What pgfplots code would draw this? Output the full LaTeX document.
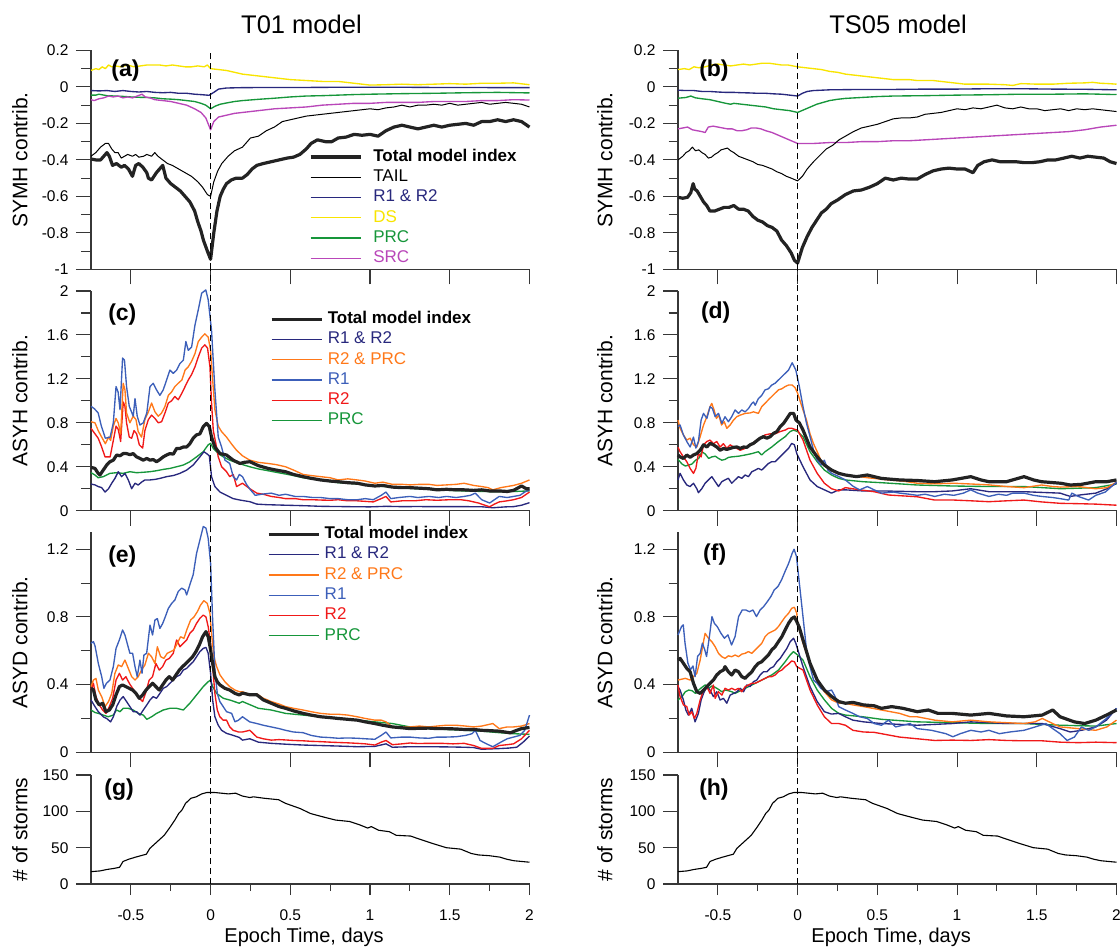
\documentclass[border=0pt]{standalone}
\usepackage{pgfplots}
\usepackage{pgfplotstable}
\pgfplotsset{compat=1.18}
\usepackage{fontspec}
\setmainfont{Liberation Sans}
\definecolor{totc}{RGB}{35,35,35}
\definecolor{navyc}{RGB}{40,40,125}
\definecolor{dsc}{RGB}{248,228,0}
\definecolor{prcc}{RGB}{22,150,58}
\definecolor{srcc}{RGB}{185,70,185}
\definecolor{orc}{RGB}{255,120,25}
\definecolor{r1c}{RGB}{60,95,185}
\definecolor{r2c}{RGB}{240,25,25}
\definecolor{axc}{RGB}{55,55,55}

\tikzset{
  lwt/.style={line width=1.35pt, line join=round},
  totst/.style={totc, line width=3.2pt, line join=round},
  tailst/.style={black, line width=1pt, line join=round},
  plab/.style={font=\fontsize{23}{27}\selectfont\bfseries, anchor=west, inner sep=0pt},
  dline/.style={black, line width=0.9pt, dash pattern=on 6pt off 4pt}
}

\pgfplotstableread{
x y
-0.75 17
-0.694 18
-0.65 20
-0.605 21.5
-0.571 23
-0.549 31
-0.515 34
-0.47 37
-0.437 39
-0.403 41
-0.381 49
-0.336 58
-0.291 67
-0.258 77
-0.224 88
-0.2 97
-0.179 102
-0.157 111
-0.123 118
-0.09 120
-0.056 124
-0.022 126
0.022 126
0.067 125
0.112 124
0.157 125
0.2 121
0.246 119
0.269 120
0.336 118
0.426 116
0.47 111
0.56 104
0.627 97
0.694 93
0.784 88
0.873 86
0.94 81
0.985 77
1.008 79
1.053 74
1.12 72
1.165 67
1.254 66
1.32 61
1.389 56
1.478 50
1.568 48
1.635 42
1.68 40
1.747 39
1.814 37
1.859 34
1.904 32
2.0 30
}\storms

\pgfplotsset{
  base/.style={
    scale only axis, width=438.5pt, xmin=-0.75, xmax=2,
    axis x line*=bottom, axis y line*=left,
    axis line style={axc, line width=1.2pt, -},
    every tick/.style={axc, line width=1.1pt},
    tick align=outside,
    major tick length=15pt, minor tick length=9.5pt,
    xtick={-0.5,0,0.5,1,1.5,2},
    minor y tick num=1,
    tick label style={font=\fontsize{15.5}{18}\selectfont},
    yticklabel style={xshift=-4pt},
    xticklabel style={yshift=-7pt},
    /pgf/number format/assume math mode=true,
    every axis y label/.style={at={(axis description cs:-0.162,0.5)},rotate=90,anchor=center,font=\fontsize{21}{25}\selectfont},
    every axis x label/.style={at={(axis description cs:0.486,-0.535)},anchor=base,font=\fontsize{20}{24}\selectfont},
    legend cell align=left,
    legend image code/.code={\draw[##1] (0pt,0pt) -- (50pt,0pt);},
    clip=false,
  },
  rightax/.style={every axis y label/.style={at={(axis description cs:-0.1665,0.5)},rotate=90,anchor=center,font=\fontsize{21}{25}\selectfont}},
  upper/.style={xticklabels={}},
  bottomax/.style={xtick style={/pgfplots/major tick length=11pt, /pgfplots/minor tick length=7pt}},
  lg/.style={draw=none, fill=none, font=\fontsize{17}{20}\selectfont, row sep=4.8pt, inner sep=0pt, nodes={inner sep=0pt, text height=12pt, text depth=3.5pt}},
}

\begin{document}
\begin{tikzpicture}
%% ---------------- (a) ----------------
\begin{axis}[base, upper, at={(91pt,-269.4pt)}, anchor=south west, height=219pt,
  ymin=-1, ymax=0.2, ytick={-1,-0.8,-0.6,-0.4,-0.2,0,0.2}, ylabel={SYMH contrib.},
  legend style={lg, at={(axis description cs:0.497,0.55)}, anchor=north west, /tikz/every odd column/.append style={column sep=11pt}}]
\addplot[dsc, lwt, forget plot] coordinates {(-0.75,0.09) (-0.72,0.10) (-0.70,0.095) (-0.68,0.11) (-0.66,0.10) (-0.64,0.12) (-0.62,0.11) (-0.60,0.115) (-0.56,0.11) (-0.52,0.12) (-0.48,0.11) (-0.44,0.115) (-0.40,0.12) (-0.36,0.12) (-0.32,0.12) (-0.28,0.115) (-0.24,0.12) (-0.20,0.115) (-0.16,0.11) (-0.12,0.11) (-0.08,0.115) (-0.04,0.11) (-0.02,0.12) (0,0.10) (0.05,0.095) (0.1,0.09) (0.15,0.08) (0.2,0.07) (0.25,0.065) (0.3,0.06) (0.35,0.055) (0.4,0.05) (0.45,0.045) (0.5,0.04) (0.6,0.035) (0.7,0.03) (0.8,0.03) (0.9,0.02) (1.0,0.01) (1.1,0.012) (1.2,0.015) (1.3,0.012) (1.4,0.015) (1.5,0.018) (1.6,0.015) (1.7,0.02) (1.8,0.02) (1.9,0.022) (2.0,0.012)};
\addplot[navyc, lwt, forget plot] coordinates {(-0.75,-0.02) (-0.70,-0.022) (-0.65,-0.02) (-0.6,-0.025) (-0.55,-0.02) (-0.5,-0.025) (-0.45,-0.028) (-0.4,-0.025) (-0.35,-0.03) (-0.3,-0.032) (-0.25,-0.03) (-0.2,-0.035) (-0.15,-0.035) (-0.1,-0.04) (-0.05,-0.043) (-0.01,-0.046) (0.02,-0.03) (0.05,-0.012) (0.1,-0.006) (0.2,-0.004) (0.4,-0.003) (0.6,-0.003) (0.8,-0.002) (1.0,-0.002) (1.2,-0.002) (1.4,-0.003) (1.6,-0.003) (1.8,-0.004) (2.0,-0.004)};
\addplot[prcc, lwt, forget plot] coordinates {(-0.75,-0.045) (-0.72,-0.045) (-0.70,-0.04) (-0.65,-0.048) (-0.6,-0.05) (-0.55,-0.052) (-0.5,-0.055) (-0.45,-0.057) (-0.4,-0.058) (-0.35,-0.06) (-0.3,-0.065) (-0.25,-0.067) (-0.2,-0.07) (-0.15,-0.075) (-0.1,-0.08) (-0.06,-0.09) (-0.03,-0.10) (0,-0.12) (0.03,-0.105) (0.06,-0.095) (0.1,-0.088) (0.15,-0.08) (0.2,-0.075) (0.3,-0.068) (0.4,-0.062) (0.5,-0.055) (0.6,-0.05) (0.7,-0.048) (0.8,-0.045) (0.9,-0.042) (1.0,-0.04) (1.2,-0.037) (1.4,-0.035) (1.6,-0.032) (1.8,-0.03) (2.0,-0.033)};
\addplot[srcc, lwt, forget plot] coordinates {(-0.75,-0.07) (-0.73,-0.075) (-0.70,-0.065) (-0.67,-0.06) (-0.64,-0.05) (-0.61,-0.055) (-0.58,-0.05) (-0.55,-0.06) (-0.52,-0.055) (-0.49,-0.06) (-0.46,-0.05) (-0.43,-0.04) (-0.41,-0.055) (-0.38,-0.06) (-0.35,-0.07) (-0.30,-0.075) (-0.25,-0.08) (-0.20,-0.09) (-0.15,-0.10) (-0.10,-0.12) (-0.06,-0.14) (-0.03,-0.17) (0,-0.235) (0.02,-0.19) (0.05,-0.165) (0.1,-0.155) (0.15,-0.145) (0.2,-0.14) (0.25,-0.135) (0.3,-0.13) (0.35,-0.125) (0.4,-0.12) (0.5,-0.115) (0.6,-0.11) (0.7,-0.10) (0.8,-0.095) (0.9,-0.09) (1.0,-0.09) (1.1,-0.085) (1.2,-0.085) (1.3,-0.085) (1.4,-0.08) (1.5,-0.08) (1.6,-0.08) (1.7,-0.075) (1.8,-0.075) (1.9,-0.07) (2.0,-0.072)};
\addplot[tailst, forget plot] coordinates {(-0.75,-0.38) (-0.72,-0.36) (-0.69,-0.33) (-0.66,-0.31) (-0.64,-0.31) (-0.62,-0.34) (-0.60,-0.36) (-0.58,-0.36) (-0.56,-0.39) (-0.54,-0.38) (-0.52,-0.37) (-0.49,-0.38) (-0.47,-0.37) (-0.45,-0.385) (-0.42,-0.38) (-0.40,-0.37) (-0.37,-0.38) (-0.35,-0.36) (-0.33,-0.38) (-0.30,-0.40) (-0.27,-0.42) (-0.24,-0.43) (-0.20,-0.45) (-0.16,-0.47) (-0.12,-0.49) (-0.08,-0.52) (-0.05,-0.55) (-0.02,-0.59) (0,-0.60) (0.02,-0.52) (0.045,-0.46) (0.07,-0.42) (0.11,-0.38) (0.15,-0.35) (0.2,-0.33) (0.25,-0.28) (0.3,-0.27) (0.35,-0.24) (0.4,-0.22) (0.45,-0.19) (0.5,-0.18) (0.55,-0.17) (0.6,-0.16) (0.65,-0.155) (0.7,-0.15) (0.75,-0.145) (0.8,-0.14) (0.85,-0.135) (0.9,-0.13) (0.95,-0.125) (1.0,-0.12) (1.05,-0.125) (1.1,-0.115) (1.15,-0.11) (1.2,-0.10) (1.25,-0.11) (1.3,-0.10) (1.35,-0.10) (1.4,-0.095) (1.45,-0.10) (1.5,-0.09) (1.55,-0.10) (1.6,-0.095) (1.65,-0.09) (1.7,-0.085) (1.75,-0.095) (1.8,-0.09) (1.85,-0.085) (1.9,-0.09) (1.95,-0.095) (2.0,-0.11)};
\addplot[totst, forget plot] coordinates {(-0.75,-0.395) (-0.72,-0.40) (-0.69,-0.40) (-0.67,-0.38) (-0.65,-0.36) (-0.635,-0.38) (-0.615,-0.43) (-0.59,-0.42) (-0.56,-0.44) (-0.54,-0.43) (-0.515,-0.45) (-0.49,-0.49) (-0.47,-0.43) (-0.45,-0.42) (-0.425,-0.44) (-0.40,-0.47) (-0.39,-0.50) (-0.37,-0.51) (-0.34,-0.47) (-0.32,-0.45) (-0.30,-0.43) (-0.28,-0.50) (-0.25,-0.53) (-0.22,-0.55) (-0.19,-0.57) (-0.16,-0.60) (-0.13,-0.63) (-0.10,-0.68) (-0.08,-0.74) (-0.06,-0.79) (-0.045,-0.84) (-0.02,-0.90) (0,-0.945) (0.02,-0.80) (0.04,-0.68) (0.06,-0.60) (0.08,-0.56) (0.10,-0.53) (0.13,-0.51) (0.16,-0.50) (0.20,-0.50) (0.23,-0.48) (0.26,-0.45) (0.29,-0.43) (0.33,-0.42) (0.38,-0.41) (0.43,-0.40) (0.48,-0.39) (0.52,-0.385) (0.56,-0.37) (0.60,-0.34) (0.63,-0.31) (0.67,-0.29) (0.72,-0.30) (0.76,-0.30) (0.80,-0.28) (0.85,-0.275) (0.90,-0.26) (0.95,-0.265) (1.00,-0.26) (1.05,-0.27) (1.10,-0.24) (1.15,-0.22) (1.20,-0.21) (1.25,-0.22) (1.30,-0.23) (1.35,-0.22) (1.40,-0.21) (1.45,-0.22) (1.50,-0.21) (1.55,-0.205) (1.60,-0.20) (1.65,-0.21) (1.70,-0.19) (1.75,-0.19) (1.80,-0.18) (1.85,-0.19) (1.90,-0.18) (1.95,-0.19) (2.00,-0.22)};
\addlegendimage{totst}\addlegendentry{\textbf{Total model index}}
\addlegendimage{tailst}\addlegendentry{TAIL}
\addlegendimage{navyc, lwt}\addlegendentry{\textcolor{navyc}{R1 \& R2}}
\addlegendimage{dsc, lwt}\addlegendentry{\textcolor{dsc}{DS}}
\addlegendimage{prcc, lwt}\addlegendentry{\textcolor{prcc}{PRC}}
\addlegendimage{srcc, lwt}\addlegendentry{\textcolor{srcc}{SRC}}
\draw[dline] (axis cs:0,-1) -- (axis cs:0,0.2);
\node[plab] at (rel axis cs:0.046,0.906) {(a)};
\node[font=\fontsize{25.5}{30}\selectfont, anchor=base] at (rel axis cs:0.48,1.075) {T01 model};
\end{axis}
%% ---------------- (b) ----------------
\begin{axis}[base, rightax, upper, at={(678pt,-269.4pt)}, anchor=south west, height=219pt,
  ymin=-1, ymax=0.2, ytick={-1,-0.8,-0.6,-0.4,-0.2,0,0.2}, ylabel={SYMH contrib.}]
\addplot[dsc, lwt] coordinates {(-0.75,0.095) (-0.71,0.10) (-0.68,0.095) (-0.65,0.11) (-0.62,0.105) (-0.58,0.11) (-0.54,0.12) (-0.50,0.125) (-0.46,0.12) (-0.42,0.115) (-0.38,0.12) (-0.34,0.125) (-0.30,0.12) (-0.26,0.125) (-0.22,0.13) (-0.18,0.13) (-0.14,0.125) (-0.10,0.12) (-0.06,0.12) (-0.03,0.115) (0,0.11) (0.05,0.105) (0.10,0.10) (0.15,0.095) (0.20,0.085) (0.25,0.08) (0.30,0.07) (0.35,0.065) (0.40,0.06) (0.45,0.055) (0.50,0.05) (0.55,0.045) (0.60,0.04) (0.65,0.04) (0.70,0.04) (0.75,0.035) (0.80,0.035) (0.85,0.035) (0.90,0.03) (0.95,0.025) (1.00,0.02) (1.05,0.015) (1.10,0.015) (1.20,0.015) (1.30,0.012) (1.35,0.008) (1.40,0.018) (1.50,0.015) (1.60,0.015) (1.70,0.02) (1.80,0.022) (1.85,0.025) (1.90,0.02) (1.95,0.018) (2.00,0.015)};
\addplot[navyc, lwt] coordinates {(-0.75,-0.018) (-0.70,-0.02) (-0.65,-0.02) (-0.6,-0.025) (-0.55,-0.025) (-0.5,-0.028) (-0.45,-0.03) (-0.4,-0.03) (-0.35,-0.032) (-0.3,-0.033) (-0.25,-0.035) (-0.2,-0.035) (-0.15,-0.038) (-0.1,-0.04) (-0.05,-0.045) (0,-0.05) (0.03,-0.035) (0.06,-0.025) (0.1,-0.02) (0.2,-0.016) (0.4,-0.014) (0.6,-0.014) (0.8,-0.012) (1.0,-0.012) (1.2,-0.01) (1.4,-0.01) (1.6,-0.012) (1.8,-0.013) (2.0,-0.016)};
\addplot[prcc, lwt] coordinates {(-0.75,-0.062) (-0.70,-0.058) (-0.67,-0.05) (-0.64,-0.06) (-0.60,-0.065) (-0.55,-0.07) (-0.5,-0.08) (-0.45,-0.09) (-0.42,-0.095) (-0.40,-0.09) (-0.35,-0.095) (-0.3,-0.10) (-0.25,-0.105) (-0.2,-0.11) (-0.15,-0.12) (-0.1,-0.125) (-0.05,-0.13) (0,-0.14) (0.04,-0.125) (0.08,-0.11) (0.12,-0.095) (0.16,-0.085) (0.2,-0.075) (0.25,-0.068) (0.3,-0.063) (0.4,-0.058) (0.5,-0.053) (0.6,-0.05) (0.8,-0.048) (1.0,-0.045) (1.2,-0.043) (1.4,-0.04) (1.6,-0.04) (1.8,-0.038) (2.0,-0.042)};
\addplot[srcc, lwt] coordinates {(-0.75,-0.23) (-0.72,-0.225) (-0.69,-0.22) (-0.66,-0.235) (-0.63,-0.24) (-0.60,-0.245) (-0.58,-0.25) (-0.56,-0.22) (-0.53,-0.215) (-0.50,-0.22) (-0.47,-0.225) (-0.44,-0.23) (-0.41,-0.23) (-0.38,-0.24) (-0.35,-0.24) (-0.32,-0.235) (-0.29,-0.225) (-0.26,-0.225) (-0.23,-0.23) (-0.20,-0.24) (-0.16,-0.25) (-0.12,-0.265) (-0.08,-0.28) (-0.04,-0.295) (0,-0.31) (0.05,-0.31) (0.1,-0.31) (0.2,-0.305) (0.3,-0.305) (0.4,-0.30) (0.5,-0.30) (0.6,-0.295) (0.7,-0.295) (0.8,-0.29) (0.9,-0.285) (1.0,-0.28) (1.1,-0.275) (1.2,-0.27) (1.3,-0.265) (1.4,-0.26) (1.5,-0.255) (1.6,-0.25) (1.7,-0.245) (1.8,-0.235) (1.9,-0.22) (1.95,-0.215) (2.0,-0.21)};
\addplot[tailst] coordinates {(-0.75,-0.40) (-0.72,-0.38) (-0.70,-0.36) (-0.68,-0.35) (-0.66,-0.33) (-0.64,-0.35) (-0.62,-0.345) (-0.60,-0.36) (-0.58,-0.37) (-0.56,-0.39) (-0.54,-0.385) (-0.52,-0.37) (-0.50,-0.36) (-0.48,-0.345) (-0.46,-0.34) (-0.44,-0.335) (-0.42,-0.35) (-0.40,-0.36) (-0.37,-0.38) (-0.34,-0.39) (-0.31,-0.40) (-0.28,-0.41) (-0.25,-0.425) (-0.22,-0.43) (-0.19,-0.44) (-0.16,-0.45) (-0.13,-0.465) (-0.10,-0.475) (-0.07,-0.49) (-0.04,-0.50) (0,-0.515) (0.03,-0.49) (0.06,-0.45) (0.10,-0.41) (0.14,-0.375) (0.18,-0.34) (0.22,-0.32) (0.26,-0.29) (0.30,-0.27) (0.35,-0.245) (0.40,-0.225) (0.45,-0.215) (0.50,-0.205) (0.55,-0.19) (0.60,-0.175) (0.65,-0.17) (0.70,-0.17) (0.75,-0.165) (0.80,-0.15) (0.85,-0.145) (0.90,-0.14) (0.95,-0.13) (1.00,-0.12) (1.05,-0.125) (1.10,-0.115) (1.15,-0.12) (1.20,-0.11) (1.25,-0.10) (1.30,-0.115) (1.35,-0.12) (1.40,-0.11) (1.45,-0.12) (1.50,-0.12) (1.55,-0.13) (1.60,-0.125) (1.65,-0.12) (1.70,-0.13) (1.75,-0.12) (1.80,-0.125) (1.85,-0.12) (1.90,-0.125) (1.95,-0.13) (2.00,-0.135)};
\addplot[totst] coordinates {(-0.75,-0.605) (-0.72,-0.61) (-0.69,-0.605) (-0.67,-0.58) (-0.655,-0.53) (-0.645,-0.56) (-0.63,-0.57) (-0.61,-0.60) (-0.59,-0.63) (-0.57,-0.65) (-0.55,-0.68) (-0.52,-0.68) (-0.49,-0.67) (-0.46,-0.66) (-0.43,-0.66) (-0.40,-0.65) (-0.37,-0.67) (-0.34,-0.67) (-0.31,-0.68) (-0.28,-0.71) (-0.25,-0.73) (-0.22,-0.74) (-0.19,-0.76) (-0.16,-0.77) (-0.13,-0.79) (-0.10,-0.84) (-0.07,-0.87) (-0.04,-0.91) (-0.02,-0.95) (0,-0.965) (0.03,-0.88) (0.06,-0.82) (0.09,-0.77) (0.12,-0.73) (0.15,-0.69) (0.18,-0.67) (0.21,-0.64) (0.25,-0.62) (0.30,-0.59) (0.35,-0.57) (0.40,-0.565) (0.45,-0.55) (0.50,-0.53) (0.55,-0.50) (0.60,-0.51) (0.65,-0.50) (0.70,-0.505) (0.75,-0.505) (0.80,-0.48) (0.85,-0.46) (0.90,-0.45) (0.95,-0.445) (1.00,-0.45) (1.05,-0.45) (1.10,-0.47) (1.13,-0.43) (1.17,-0.41) (1.22,-0.40) (1.27,-0.41) (1.32,-0.41) (1.37,-0.41) (1.42,-0.415) (1.47,-0.415) (1.52,-0.41) (1.57,-0.40) (1.62,-0.40) (1.67,-0.39) (1.72,-0.38) (1.77,-0.39) (1.82,-0.38) (1.87,-0.385) (1.92,-0.39) (1.96,-0.41) (2.00,-0.42)};
\draw[dline] (axis cs:0,-1) -- (axis cs:0,0.2);
\node[plab] at (rel axis cs:0.048,0.906) {(b)};
\node[font=\fontsize{25.5}{30}\selectfont, anchor=base] at (rel axis cs:0.502,1.075) {TS05 model};
\end{axis}
%% ---------------- (c) ----------------
\begin{axis}[base, upper, at={(91pt,-510.7pt)}, anchor=south west, height=219.7pt,
  ymin=0, ymax=2, ytick={0,0.4,0.8,1.2,1.6,2}, ylabel={ASYH contrib.},
  legend style={lg, at={(axis description cs:0.408,0.908)}, anchor=north west, /tikz/every odd column/.append style={column sep=4.5pt}}]
\addplot[prcc, lwt, forget plot] coordinates {(-0.75,0.346) (-0.725,0.325) (-0.705,0.30) (-0.673,0.31) (-0.631,0.34) (-0.59,0.346) (-0.548,0.34) (-0.506,0.355) (-0.464,0.346) (-0.422,0.35) (-0.38,0.355) (-0.339,0.364) (-0.297,0.376) (-0.255,0.385) (-0.213,0.40) (-0.171,0.416) (-0.13,0.446) (-0.088,0.49) (-0.046,0.537) (-0.015,0.60) (0,0.613) (0.017,0.567) (0.048,0.52) (0.08,0.49) (0.12,0.46) (0.163,0.437) (0.2,0.42) (0.246,0.40) (0.3,0.38) (0.36,0.364) (0.41,0.35) (0.47,0.334) (0.52,0.32) (0.58,0.30) (0.63,0.29) (0.69,0.28) (0.75,0.265) (0.8,0.255) (0.86,0.25) (0.92,0.243) (0.97,0.235) (1.03,0.225) (1.1,0.22) (1.14,0.215) (1.2,0.208) (1.25,0.203) (1.3,0.20) (1.37,0.195) (1.45,0.19) (1.5,0.185) (1.59,0.18) (1.65,0.178) (1.7,0.175) (1.8,0.173) (1.9,0.175) (2.0,0.18)};
\addplot[navyc, lwt, forget plot] coordinates {(-0.75,0.243) (-0.725,0.235) (-0.705,0.22) (-0.683,0.21) (-0.662,0.17) (-0.64,0.20) (-0.62,0.25) (-0.6,0.294) (-0.579,0.355) (-0.558,0.31) (-0.537,0.34) (-0.516,0.28) (-0.495,0.20) (-0.474,0.25) (-0.454,0.234) (-0.433,0.26) (-0.412,0.28) (-0.38,0.28) (-0.349,0.285) (-0.318,0.294) (-0.276,0.31) (-0.234,0.32) (-0.192,0.34) (-0.15,0.37) (-0.109,0.416) (-0.067,0.49) (-0.042,0.537) (-0.025,0.52) (-0.008,0.50) (0.006,0.31) (0.027,0.22) (0.059,0.17) (0.1,0.14) (0.142,0.11) (0.184,0.097) (0.246,0.082) (0.29,0.06) (0.35,0.055) (0.47,0.05) (0.6,0.045) (0.69,0.04) (0.8,0.038) (0.92,0.036) (1.0,0.035) (1.1,0.04) (1.2,0.037) (1.3,0.038) (1.37,0.037) (1.48,0.037) (1.59,0.037) (1.7,0.036) (1.77,0.027) (1.85,0.035) (1.9,0.037) (1.95,0.05) (2.0,0.073)};
\addplot[r2c, lwt, forget plot] coordinates {(-0.75,0.75) (-0.725,0.70) (-0.705,0.66) (-0.683,0.58) (-0.662,0.49) (-0.63,0.49) (-0.61,0.64) (-0.593,0.77) (-0.579,0.74) (-0.564,0.63) (-0.548,0.99) (-0.537,0.95) (-0.527,0.80) (-0.51,0.67) (-0.495,0.66) (-0.48,0.73) (-0.464,0.70) (-0.447,0.60) (-0.426,0.57) (-0.412,0.73) (-0.39,0.83) (-0.37,0.87) (-0.349,0.84) (-0.328,0.80) (-0.307,0.81) (-0.286,0.89) (-0.265,0.98) (-0.245,1.00) (-0.224,1.04) (-0.203,1.01) (-0.18,1.07) (-0.16,1.13) (-0.14,1.19) (-0.119,1.24) (-0.098,1.31) (-0.077,1.40) (-0.056,1.48) (-0.036,1.51) (-0.019,1.48) (-0.004,1.31) (0.006,0.98) (0.017,0.73) (0.033,0.61) (0.048,0.49) (0.069,0.40) (0.1,0.355) (0.12,0.31) (0.142,0.33) (0.163,0.22) (0.2,0.25) (0.246,0.20) (0.29,0.16) (0.33,0.15) (0.38,0.13) (0.43,0.12) (0.47,0.11) (0.53,0.11) (0.58,0.10) (0.64,0.10) (0.69,0.097) (0.75,0.095) (0.8,0.10) (0.86,0.09) (0.92,0.09) (0.97,0.085) (1.02,0.08) (1.07,0.11) (1.1,0.13) (1.13,0.08) (1.2,0.09) (1.28,0.09) (1.35,0.10) (1.42,0.095) (1.5,0.10) (1.57,0.10) (1.62,0.09) (1.68,0.07) (1.72,0.05) (1.75,0.036) (1.78,0.06) (1.81,0.08) (1.86,0.09) (1.9,0.10) (1.95,0.12) (2.0,0.17)};
\addplot[orc, lwt, forget plot] coordinates {(-0.75,0.81) (-0.725,0.80) (-0.705,0.73) (-0.683,0.67) (-0.66,0.61) (-0.64,0.67) (-0.627,0.64) (-0.61,0.77) (-0.593,0.84) (-0.579,0.80) (-0.564,0.70) (-0.548,1.16) (-0.537,1.10) (-0.527,0.89) (-0.506,0.80) (-0.485,0.86) (-0.468,0.83) (-0.454,0.72) (-0.433,0.67) (-0.412,0.83) (-0.39,0.90) (-0.37,0.98) (-0.349,0.90) (-0.328,0.86) (-0.307,0.89) (-0.286,0.95) (-0.265,1.05) (-0.245,1.08) (-0.224,1.13) (-0.203,1.16) (-0.18,1.19) (-0.16,1.28) (-0.14,1.31) (-0.119,1.36) (-0.098,1.43) (-0.077,1.54) (-0.056,1.58) (-0.036,1.61) (-0.015,1.58) (0,1.46) (0.013,1.19) (0.027,0.92) (0.048,0.77) (0.069,0.72) (0.1,0.67) (0.13,0.61) (0.163,0.55) (0.2,0.50) (0.246,0.46) (0.3,0.44) (0.36,0.43) (0.41,0.42) (0.47,0.40) (0.52,0.37) (0.58,0.33) (0.63,0.32) (0.69,0.31) (0.75,0.30) (0.8,0.28) (0.86,0.29) (0.92,0.28) (0.97,0.27) (1.03,0.25) (1.08,0.26) (1.14,0.24) (1.2,0.24) (1.25,0.235) (1.31,0.24) (1.37,0.24) (1.42,0.23) (1.48,0.235) (1.54,0.24) (1.59,0.25) (1.65,0.23) (1.7,0.22) (1.74,0.21) (1.77,0.19) (1.82,0.21) (1.86,0.22) (1.9,0.23) (1.95,0.25) (2.0,0.28)};
\addplot[r1c, lwt, forget plot] coordinates {(-0.75,0.95) (-0.73,0.93) (-0.705,0.89) (-0.685,0.77) (-0.66,0.66) (-0.63,0.67) (-0.61,0.80) (-0.593,1.13) (-0.58,1.08) (-0.568,0.92) (-0.552,1.39) (-0.54,1.37) (-0.527,1.13) (-0.51,0.95) (-0.485,0.86) (-0.474,1.02) (-0.46,0.86) (-0.443,0.78) (-0.422,0.80) (-0.40,0.89) (-0.38,1.13) (-0.36,1.16) (-0.339,1.10) (-0.318,1.05) (-0.297,1.10) (-0.276,1.19) (-0.255,1.28) (-0.234,1.25) (-0.213,1.28) (-0.192,1.34) (-0.171,1.37) (-0.155,1.54) (-0.14,1.46) (-0.119,1.49) (-0.098,1.69) (-0.077,1.83) (-0.056,1.98) (-0.03,2.01) (-0.015,1.92) (0.006,1.64) (0.027,1.10) (0.048,0.67) (0.069,0.58) (0.09,0.46) (0.12,0.43) (0.142,0.31) (0.163,0.28) (0.18,0.33) (0.2,0.31) (0.225,0.24) (0.25,0.19) (0.28,0.14) (0.32,0.15) (0.38,0.16) (0.43,0.14) (0.47,0.15) (0.53,0.13) (0.58,0.13) (0.64,0.12) (0.69,0.12) (0.75,0.11) (0.80,0.11) (0.86,0.10) (0.92,0.10) (0.97,0.11) (1.02,0.10) (1.07,0.14) (1.1,0.17) (1.13,0.11) (1.18,0.12) (1.25,0.13) (1.30,0.12) (1.37,0.13) (1.43,0.12) (1.48,0.13) (1.54,0.12) (1.59,0.13) (1.63,0.14) (1.66,0.16) (1.70,0.10) (1.75,0.07) (1.78,0.10) (1.81,0.13) (1.86,0.12) (1.90,0.13) (1.94,0.14) (1.97,0.17) (2.0,0.19)};
\addplot[totst, forget plot] coordinates {(-0.75,0.395) (-0.725,0.385) (-0.705,0.34) (-0.694,0.325) (-0.673,0.37) (-0.652,0.415) (-0.631,0.446) (-0.61,0.46) (-0.589,0.507) (-0.568,0.50) (-0.548,0.52) (-0.527,0.52) (-0.506,0.51) (-0.485,0.52) (-0.464,0.49) (-0.443,0.476) (-0.422,0.46) (-0.40,0.476) (-0.38,0.46) (-0.36,0.466) (-0.339,0.446) (-0.318,0.466) (-0.297,0.49) (-0.276,0.507) (-0.255,0.52) (-0.234,0.515) (-0.213,0.567) (-0.192,0.567) (-0.171,0.58) (-0.15,0.58) (-0.13,0.61) (-0.109,0.66) (-0.088,0.69) (-0.067,0.70) (-0.046,0.765) (-0.025,0.795) (-0.008,0.765) (0.006,0.67) (0.027,0.58) (0.059,0.52) (0.1,0.507) (0.142,0.46) (0.184,0.43) (0.21,0.44) (0.246,0.446) (0.3,0.41) (0.36,0.385) (0.41,0.37) (0.47,0.355) (0.52,0.33) (0.58,0.31) (0.63,0.295) (0.69,0.28) (0.75,0.27) (0.8,0.264) (0.86,0.255) (0.92,0.25) (0.97,0.235) (1.03,0.225) (1.08,0.23) (1.14,0.215) (1.2,0.21) (1.25,0.21) (1.31,0.205) (1.37,0.20) (1.42,0.19) (1.48,0.195) (1.54,0.19) (1.59,0.19) (1.65,0.185) (1.7,0.19) (1.75,0.18) (1.81,0.18) (1.86,0.175) (1.9,0.185) (1.95,0.225) (1.98,0.20) (2.0,0.20)};
\addlegendimage{totst}\addlegendentry{\textbf{Total model index}}
\addlegendimage{navyc, lwt}\addlegendentry{\textcolor{navyc}{R1 \& R2}}
\addlegendimage{orc, lwt}\addlegendentry{\textcolor{orc}{R2 \& PRC}}
\addlegendimage{r1c, lwt}\addlegendentry{\textcolor{r1c}{R1}}
\addlegendimage{r2c, lwt}\addlegendentry{\textcolor{r2c}{R2}}
\addlegendimage{prcc, lwt}\addlegendentry{\textcolor{prcc}{PRC}}
\draw[dline] (axis cs:0,0) -- ([yshift=21.6pt]axis cs:0,2);
\node[plab] at (rel axis cs:0.039,0.895) {(c)};
\end{axis}
%% ---------------- (d) ----------------
\begin{axis}[base, rightax, upper, at={(678pt,-510.7pt)}, anchor=south west, height=219.7pt,
  ymin=0, ymax=2, ytick={0,0.4,0.8,1.2,1.6,2}, ylabel={ASYH contrib.}]
\addplot[prcc, lwt] coordinates {(-0.75,0.467) (-0.725,0.425) (-0.704,0.407) (-0.683,0.415) (-0.662,0.425) (-0.64,0.46) (-0.62,0.476) (-0.6,0.537) (-0.579,0.516) (-0.558,0.476) (-0.537,0.49) (-0.516,0.496) (-0.496,0.476) (-0.475,0.46) (-0.455,0.467) (-0.434,0.485) (-0.413,0.49) (-0.371,0.496) (-0.329,0.507) (-0.287,0.52) (-0.246,0.537) (-0.225,0.507) (-0.204,0.537) (-0.162,0.58) (-0.12,0.63) (-0.078,0.674) (-0.047,0.72) (-0.026,0.734) (0,0.72) (0.034,0.674) (0.078,0.537) (0.123,0.446) (0.168,0.37) (0.213,0.325) (0.258,0.294) (0.3,0.28) (0.41,0.264) (0.526,0.255) (0.75,0.234) (0.97,0.225) (1.2,0.22) (1.42,0.22) (1.65,0.20) (1.87,0.21) (2.0,0.243)};
\addplot[navyc, lwt] coordinates {(-0.75,0.28) (-0.737,0.34) (-0.716,0.28) (-0.695,0.234) (-0.674,0.22) (-0.653,0.25) (-0.632,0.20) (-0.622,0.164) (-0.601,0.20) (-0.58,0.25) (-0.559,0.28) (-0.538,0.31) (-0.517,0.265) (-0.496,0.22) (-0.475,0.265) (-0.455,0.28) (-0.434,0.295) (-0.413,0.25) (-0.392,0.28) (-0.371,0.31) (-0.35,0.295) (-0.329,0.325) (-0.308,0.31) (-0.287,0.355) (-0.266,0.37) (-0.246,0.385) (-0.225,0.37) (-0.204,0.40) (-0.183,0.43) (-0.162,0.446) (-0.141,0.446) (-0.12,0.476) (-0.099,0.507) (-0.078,0.537) (-0.057,0.567) (-0.037,0.613) (-0.02,0.60) (-0.005,0.52) (0.034,0.40) (0.078,0.28) (0.123,0.22) (0.168,0.19) (0.213,0.16) (0.258,0.19) (0.3,0.19) (0.41,0.18) (0.526,0.18) (0.75,0.173) (0.86,0.173) (0.97,0.18) (1.086,0.20) (1.2,0.173) (1.42,0.173) (1.646,0.16) (1.71,0.13) (1.78,0.145) (1.87,0.16) (1.94,0.20) (2.0,0.25)};
\addplot[r2c, lwt] coordinates {(-0.75,0.577) (-0.737,0.537) (-0.716,0.49) (-0.695,0.446) (-0.674,0.385) (-0.653,0.34) (-0.638,0.385) (-0.622,0.52) (-0.605,0.49) (-0.59,0.60) (-0.569,0.63) (-0.549,0.643) (-0.528,0.61) (-0.507,0.63) (-0.486,0.58) (-0.465,0.61) (-0.444,0.567) (-0.423,0.60) (-0.402,0.58) (-0.381,0.567) (-0.36,0.55) (-0.329,0.567) (-0.298,0.60) (-0.266,0.63) (-0.235,0.66) (-0.204,0.69) (-0.172,0.70) (-0.141,0.70) (-0.11,0.72) (-0.078,0.734) (-0.057,0.75) (-0.037,0.75) (-0.016,0.74) (0,0.734) (0.034,0.643) (0.078,0.46) (0.123,0.34) (0.168,0.25) (0.213,0.20) (0.258,0.18) (0.3,0.21) (0.39,0.19) (0.48,0.173) (0.57,0.143) (0.66,0.135) (0.75,0.127) (0.86,0.097) (0.98,0.097) (1.09,0.09) (1.2,0.082) (1.31,0.09) (1.42,0.097) (1.53,0.08) (1.65,0.067) (1.76,0.064) (1.87,0.06) (2.0,0.05)};
\addplot[orc, lwt] coordinates {(-0.75,0.825) (-0.737,0.75) (-0.716,0.69) (-0.695,0.643) (-0.674,0.66) (-0.653,0.60) (-0.632,0.58) (-0.611,0.674) (-0.59,0.78) (-0.569,0.856) (-0.549,0.947) (-0.538,0.977) (-0.524,0.917) (-0.509,0.84) (-0.494,0.87) (-0.477,0.78) (-0.46,0.81) (-0.444,0.75) (-0.423,0.78) (-0.402,0.825) (-0.381,0.856) (-0.36,0.87) (-0.329,0.886) (-0.298,0.89) (-0.277,0.90) (-0.246,0.886) (-0.225,0.947) (-0.204,0.977) (-0.183,1.01) (-0.162,1.04) (-0.141,1.07) (-0.12,1.10) (-0.099,1.11) (-0.078,1.13) (-0.057,1.144) (-0.034,1.144) (-0.016,1.12) (0,1.07) (0.034,0.917) (0.056,0.825) (0.078,0.70) (0.1,0.61) (0.123,0.537) (0.146,0.46) (0.168,0.416) (0.213,0.37) (0.258,0.34) (0.3,0.325) (0.35,0.315) (0.39,0.31) (0.44,0.30) (0.48,0.294) (0.57,0.28) (0.66,0.27) (0.75,0.25) (0.86,0.245) (0.98,0.25) (1.09,0.243) (1.2,0.235) (1.31,0.22) (1.42,0.21) (1.53,0.234) (1.6,0.22) (1.65,0.215) (1.76,0.22) (1.87,0.20) (1.94,0.21) (2.0,0.26)};
\addplot[r1c, lwt] coordinates {(-0.75,0.765) (-0.737,0.78) (-0.716,0.69) (-0.695,0.63) (-0.674,0.58) (-0.653,0.67) (-0.638,0.57) (-0.622,0.63) (-0.605,0.825) (-0.59,0.886) (-0.569,0.84) (-0.549,0.947) (-0.534,0.93) (-0.517,0.856) (-0.496,0.886) (-0.475,0.795) (-0.455,0.856) (-0.434,0.81) (-0.413,0.856) (-0.392,0.917) (-0.371,0.886) (-0.35,0.917) (-0.329,0.90) (-0.308,0.93) (-0.287,0.977) (-0.276,0.99) (-0.266,0.96) (-0.246,1.02) (-0.225,1.05) (-0.204,1.10) (-0.183,1.11) (-0.162,1.144) (-0.141,1.16) (-0.12,1.19) (-0.099,1.22) (-0.078,1.25) (-0.057,1.28) (-0.034,1.347) (-0.011,1.28) (0.011,1.13) (0.034,0.947) (0.056,0.795) (0.078,0.674) (0.1,0.55) (0.123,0.46) (0.146,0.416) (0.168,0.46) (0.19,0.37) (0.213,0.34) (0.26,0.31) (0.3,0.28) (0.35,0.22) (0.39,0.19) (0.437,0.22) (0.48,0.19) (0.526,0.16) (0.6,0.17) (0.64,0.16) (0.7,0.15) (0.75,0.14) (0.8,0.15) (0.86,0.13) (0.92,0.15) (0.98,0.14) (1.04,0.16) (1.086,0.19) (1.13,0.16) (1.2,0.13) (1.26,0.15) (1.31,0.14) (1.35,0.16) (1.42,0.16) (1.48,0.14) (1.53,0.13) (1.6,0.12) (1.646,0.11) (1.7,0.097) (1.72,0.16) (1.76,0.13) (1.825,0.097) (1.87,0.14) (1.93,0.17) (2.0,0.26)};
\addplot[totst] coordinates {(-0.75,0.507) (-0.737,0.49) (-0.716,0.476) (-0.695,0.507) (-0.674,0.486) (-0.653,0.507) (-0.632,0.52) (-0.611,0.55) (-0.59,0.60) (-0.569,0.58) (-0.549,0.613) (-0.528,0.60) (-0.507,0.58) (-0.486,0.55) (-0.465,0.567) (-0.444,0.558) (-0.423,0.567) (-0.402,0.577) (-0.381,0.58) (-0.36,0.567) (-0.339,0.58) (-0.318,0.577) (-0.298,0.60) (-0.277,0.613) (-0.256,0.637) (-0.235,0.66) (-0.214,0.674) (-0.193,0.66) (-0.172,0.674) (-0.151,0.704) (-0.13,0.72) (-0.109,0.765) (-0.088,0.795) (-0.067,0.84) (-0.046,0.886) (-0.025,0.886) (-0.01,0.825) (0.011,0.80) (0.034,0.734) (0.078,0.58) (0.123,0.49) (0.168,0.416) (0.213,0.37) (0.258,0.34) (0.3,0.325) (0.37,0.31) (0.437,0.325) (0.48,0.31) (0.526,0.294) (0.64,0.28) (0.75,0.275) (0.86,0.264) (0.97,0.28) (1.086,0.31) (1.15,0.28) (1.2,0.264) (1.31,0.264) (1.42,0.31) (1.48,0.28) (1.53,0.264) (1.65,0.25) (1.71,0.234) (1.78,0.24) (1.87,0.264) (1.94,0.264) (2.0,0.28)};
\draw[dline] (axis cs:0,0) -- ([yshift=21.6pt]axis cs:0,2);
\node[plab] at (rel axis cs:0.052,0.90) {(d)};
\end{axis}
%% ---------------- (e) ----------------
\begin{axis}[base, upper, at={(91pt,-752.3pt)}, anchor=south west, height=220pt,
  ymin=0, ymax=1.3, ytick={0,0.4,0.8,1.2}, ylabel={ASYD contrib.},
  legend style={lg, at={(axis description cs:0.401,1.027)}, anchor=north west, /tikz/every odd column/.append style={column sep=4.5pt}}]
\addplot[prcc, lwt, forget plot] coordinates {(-0.75,0.25) (-0.725,0.235) (-0.704,0.23) (-0.673,0.22) (-0.642,0.21) (-0.61,0.22) (-0.59,0.25) (-0.568,0.24) (-0.548,0.26) (-0.516,0.26) (-0.485,0.25) (-0.454,0.23) (-0.422,0.22) (-0.40,0.195) (-0.37,0.21) (-0.339,0.23) (-0.297,0.25) (-0.255,0.26) (-0.213,0.26) (-0.171,0.25) (-0.13,0.29) (-0.088,0.339) (-0.046,0.388) (-0.015,0.417) (0,0.427) (0.013,0.388) (0.038,0.348) (0.08,0.319) (0.12,0.309) (0.18,0.29) (0.2,0.30) (0.25,0.28) (0.3,0.26) (0.38,0.25) (0.47,0.23) (0.58,0.22) (0.69,0.21) (0.8,0.20) (0.92,0.19) (1.03,0.18) (1.14,0.17) (1.25,0.15) (1.37,0.14) (1.48,0.135) (1.59,0.13) (1.7,0.125) (1.81,0.116) (1.9,0.11) (2.0,0.106)};
\addplot[navyc, lwt, forget plot] coordinates {(-0.75,0.309) (-0.725,0.27) (-0.704,0.24) (-0.673,0.21) (-0.652,0.20) (-0.627,0.18) (-0.61,0.21) (-0.589,0.27) (-0.568,0.309) (-0.548,0.329) (-0.527,0.30) (-0.506,0.27) (-0.485,0.24) (-0.464,0.24) (-0.443,0.22) (-0.422,0.25) (-0.40,0.28) (-0.38,0.309) (-0.36,0.329) (-0.339,0.319) (-0.318,0.348) (-0.297,0.378) (-0.276,0.388) (-0.255,0.408) (-0.234,0.427) (-0.213,0.447) (-0.192,0.457) (-0.171,0.486) (-0.15,0.496) (-0.13,0.516) (-0.109,0.535) (-0.088,0.565) (-0.067,0.595) (-0.046,0.614) (-0.029,0.62) (-0.015,0.585) (0,0.467) (0.013,0.309) (0.027,0.21) (0.048,0.16) (0.069,0.13) (0.1,0.112) (0.142,0.10) (0.18,0.088) (0.2,0.072) (0.246,0.08) (0.3,0.06) (0.38,0.053) (0.47,0.048) (0.58,0.043) (0.69,0.04) (0.8,0.037) (0.92,0.033) (1.03,0.035) (1.1,0.05) (1.14,0.03) (1.25,0.033) (1.37,0.033) (1.48,0.032) (1.59,0.03) (1.65,0.028) (1.7,0.018) (1.75,0.02) (1.81,0.022) (1.87,0.025) (1.92,0.03) (1.96,0.06) (2.0,0.096)};
\addplot[r2c, lwt, forget plot] coordinates {(-0.75,0.368) (-0.735,0.408) (-0.719,0.329) (-0.698,0.28) (-0.677,0.25) (-0.656,0.23) (-0.635,0.27) (-0.614,0.319) (-0.593,0.427) (-0.572,0.467) (-0.552,0.427) (-0.531,0.447) (-0.51,0.408) (-0.489,0.378) (-0.468,0.348) (-0.447,0.319) (-0.426,0.30) (-0.405,0.358) (-0.385,0.427) (-0.364,0.447) (-0.343,0.525) (-0.322,0.486) (-0.301,0.506) (-0.28,0.545) (-0.259,0.555) (-0.234,0.585) (-0.213,0.664) (-0.192,0.624) (-0.171,0.644) (-0.15,0.664) (-0.13,0.703) (-0.109,0.723) (-0.088,0.762) (-0.067,0.792) (-0.046,0.811) (-0.029,0.80) (-0.015,0.742) (0,0.644) (0.013,0.506) (0.027,0.348) (0.042,0.25) (0.058,0.21) (0.079,0.19) (0.1,0.19) (0.12,0.15) (0.142,0.13) (0.175,0.12) (0.2,0.12) (0.246,0.13) (0.29,0.09) (0.33,0.08) (0.38,0.072) (0.43,0.075) (0.47,0.073) (0.52,0.07) (0.58,0.068) (0.63,0.065) (0.69,0.063) (0.75,0.06) (0.8,0.058) (0.86,0.056) (0.92,0.053) (0.97,0.05) (1.03,0.043) (1.07,0.06) (1.1,0.07) (1.14,0.045) (1.2,0.05) (1.25,0.055) (1.3,0.052) (1.37,0.053) (1.45,0.053) (1.52,0.05) (1.59,0.053) (1.65,0.04) (1.7,0.023) (1.77,0.023) (1.81,0.04) (1.86,0.045) (1.9,0.05) (1.95,0.08) (2.0,0.13)};
\addplot[orc, lwt, forget plot] coordinates {(-0.75,0.388) (-0.735,0.427) (-0.719,0.437) (-0.704,0.368) (-0.683,0.329) (-0.662,0.27) (-0.64,0.30) (-0.62,0.348) (-0.6,0.467) (-0.579,0.516) (-0.558,0.506) (-0.537,0.545) (-0.516,0.496) (-0.495,0.447) (-0.474,0.427) (-0.454,0.447) (-0.433,0.486) (-0.412,0.516) (-0.39,0.585) (-0.37,0.565) (-0.349,0.525) (-0.334,0.624) (-0.313,0.565) (-0.293,0.555) (-0.272,0.585) (-0.251,0.595) (-0.23,0.605) (-0.209,0.644) (-0.188,0.683) (-0.167,0.673) (-0.146,0.732) (-0.125,0.782) (-0.104,0.80) (-0.083,0.831) (-0.063,0.87) (-0.042,0.896) (-0.021,0.88) (-0.004,0.821) (0.006,0.703) (0.021,0.565) (0.038,0.506) (0.059,0.457) (0.09,0.417) (0.12,0.388) (0.153,0.368) (0.18,0.358) (0.2,0.358) (0.246,0.34) (0.29,0.345) (0.33,0.32) (0.38,0.30) (0.43,0.285) (0.47,0.27) (0.52,0.26) (0.58,0.25) (0.63,0.24) (0.69,0.23) (0.75,0.225) (0.8,0.225) (0.86,0.22) (0.92,0.21) (0.97,0.20) (1.03,0.19) (1.07,0.19) (1.1,0.18) (1.14,0.15) (1.2,0.15) (1.25,0.15) (1.31,0.155) (1.37,0.15) (1.42,0.155) (1.48,0.16) (1.54,0.16) (1.6,0.155) (1.65,0.15) (1.7,0.155) (1.77,0.17) (1.81,0.14) (1.86,0.15) (1.9,0.15) (1.95,0.155) (2.0,0.17)};
\addplot[r1c, lwt, forget plot] coordinates {(-0.75,0.644) (-0.735,0.654) (-0.725,0.63) (-0.704,0.525) (-0.683,0.447) (-0.669,0.378) (-0.653,0.408) (-0.631,0.427) (-0.61,0.506) (-0.593,0.614) (-0.572,0.664) (-0.552,0.723) (-0.537,0.693) (-0.523,0.644) (-0.506,0.585) (-0.489,0.585) (-0.474,0.506) (-0.46,0.447) (-0.443,0.545) (-0.43,0.467) (-0.418,0.575) (-0.401,0.585) (-0.38,0.752) (-0.364,0.693) (-0.349,0.782) (-0.334,0.79) (-0.318,0.732) (-0.301,0.76) (-0.284,0.801) (-0.265,0.85) (-0.244,0.88) (-0.224,0.90) (-0.203,0.95) (-0.182,0.97) (-0.161,0.96) (-0.15,0.93) (-0.13,0.99) (-0.109,1.05) (-0.088,1.176) (-0.067,1.255) (-0.046,1.334) (-0.029,1.325) (-0.015,1.264) (0,1.117) (0.013,0.782) (0.027,0.486) (0.042,0.348) (0.058,0.30) (0.079,0.27) (0.1,0.24) (0.132,0.23) (0.153,0.18) (0.175,0.19) (0.2,0.21) (0.245,0.18) (0.29,0.17) (0.33,0.16) (0.38,0.15) (0.43,0.14) (0.47,0.13) (0.52,0.12) (0.58,0.116) (0.63,0.10) (0.69,0.09) (0.75,0.087) (0.8,0.083) (0.86,0.085) (0.92,0.083) (0.97,0.08) (1.03,0.077) (1.07,0.10) (1.1,0.12) (1.13,0.085) (1.2,0.09) (1.25,0.09) (1.31,0.085) (1.37,0.083) (1.42,0.09) (1.48,0.09) (1.54,0.092) (1.6,0.10) (1.64,0.11) (1.66,0.13) (1.69,0.07) (1.73,0.05) (1.77,0.033) (1.82,0.06) (1.86,0.08) (1.9,0.09) (1.94,0.10) (1.97,0.13) (2.0,0.22)};
\addplot[totst, forget plot] coordinates {(-0.75,0.378) (-0.735,0.37) (-0.719,0.309) (-0.698,0.28) (-0.677,0.29) (-0.656,0.24) (-0.635,0.25) (-0.614,0.28) (-0.593,0.339) (-0.572,0.388) (-0.552,0.398) (-0.531,0.388) (-0.51,0.378) (-0.489,0.368) (-0.468,0.348) (-0.447,0.319) (-0.426,0.339) (-0.405,0.368) (-0.385,0.388) (-0.364,0.408) (-0.343,0.388) (-0.322,0.368) (-0.301,0.398) (-0.28,0.427) (-0.259,0.447) (-0.238,0.427) (-0.217,0.457) (-0.196,0.486) (-0.176,0.506) (-0.155,0.525) (-0.134,0.545) (-0.113,0.565) (-0.092,0.595) (-0.071,0.634) (-0.05,0.683) (-0.029,0.713) (-0.015,0.683) (0,0.605) (0.013,0.525) (0.027,0.447) (0.042,0.417) (0.059,0.398) (0.09,0.378) (0.12,0.368) (0.153,0.348) (0.18,0.339) (0.2,0.35) (0.246,0.34) (0.29,0.34) (0.33,0.31) (0.38,0.29) (0.43,0.27) (0.47,0.26) (0.52,0.245) (0.58,0.23) (0.63,0.22) (0.69,0.21) (0.75,0.205) (0.8,0.20) (0.86,0.195) (0.92,0.19) (0.97,0.18) (1.03,0.17) (1.08,0.16) (1.14,0.15) (1.2,0.145) (1.25,0.14) (1.31,0.142) (1.37,0.143) (1.42,0.14) (1.48,0.14) (1.54,0.138) (1.59,0.135) (1.65,0.135) (1.7,0.13) (1.75,0.128) (1.81,0.125) (1.88,0.115) (1.92,0.13) (1.95,0.14) (2.0,0.147)};
\addlegendimage{totst}\addlegendentry{\textbf{Total model index}}
\addlegendimage{navyc, lwt}\addlegendentry{\textcolor{navyc}{R1 \& R2}}
\addlegendimage{orc, lwt}\addlegendentry{\textcolor{orc}{R2 \& PRC}}
\addlegendimage{r1c, lwt}\addlegendentry{\textcolor{r1c}{R1}}
\addlegendimage{r2c, lwt}\addlegendentry{\textcolor{r2c}{R2}}
\addlegendimage{prcc, lwt}\addlegendentry{\textcolor{prcc}{PRC}}
\draw[dline] (axis cs:0,0) -- ([yshift=21.6pt]axis cs:0,1.3);
\node[plab] at (rel axis cs:0.039,0.888) {(e)};
\end{axis}
%% ---------------- (f) ----------------
\begin{axis}[base, rightax, upper, at={(678pt,-752.3pt)}, anchor=south west, height=220pt,
  ymin=0, ymax=1.3, ytick={0,0.4,0.8,1.2}, ylabel={ASYD contrib.}]
\addplot[prcc, lwt] coordinates {(-0.75,0.309) (-0.725,0.329) (-0.704,0.358) (-0.683,0.368) (-0.662,0.364) (-0.64,0.348) (-0.62,0.368) (-0.6,0.384) (-0.579,0.398) (-0.558,0.378) (-0.537,0.392) (-0.517,0.384) (-0.496,0.372) (-0.475,0.358) (-0.455,0.368) (-0.434,0.364) (-0.413,0.358) (-0.392,0.348) (-0.371,0.358) (-0.329,0.378) (-0.287,0.398) (-0.246,0.417) (-0.204,0.437) (-0.162,0.457) (-0.12,0.486) (-0.078,0.535) (-0.047,0.575) (-0.026,0.595) (0,0.575) (0.034,0.545) (0.078,0.447) (0.123,0.368) (0.168,0.31) (0.213,0.26) (0.258,0.23) (0.3,0.22) (0.41,0.21) (0.526,0.195) (0.75,0.18) (0.97,0.175) (1.2,0.17) (1.42,0.17) (1.646,0.16) (1.87,0.155) (2.0,0.17)};
\addplot[navyc, lwt] coordinates {(-0.75,0.388) (-0.737,0.368) (-0.716,0.309) (-0.701,0.25) (-0.685,0.22) (-0.664,0.26) (-0.643,0.18) (-0.622,0.23) (-0.605,0.309) (-0.59,0.348) (-0.569,0.388) (-0.549,0.368) (-0.528,0.329) (-0.507,0.358) (-0.486,0.309) (-0.465,0.319) (-0.444,0.29) (-0.423,0.338) (-0.402,0.348) (-0.381,0.358) (-0.36,0.378) (-0.339,0.358) (-0.318,0.398) (-0.298,0.388) (-0.277,0.417) (-0.256,0.427) (-0.235,0.457) (-0.214,0.476) (-0.193,0.476) (-0.172,0.496) (-0.151,0.506) (-0.13,0.535) (-0.109,0.555) (-0.088,0.585) (-0.067,0.614) (-0.046,0.654) (-0.025,0.674) (-0.011,0.644) (0.034,0.506) (0.078,0.388) (0.123,0.30) (0.168,0.24) (0.213,0.226) (0.258,0.23) (0.3,0.21) (0.347,0.19) (0.414,0.18) (0.526,0.17) (0.64,0.165) (0.75,0.16) (0.86,0.165) (0.97,0.17) (1.086,0.18) (1.2,0.175) (1.31,0.17) (1.42,0.17) (1.534,0.17) (1.646,0.14) (1.71,0.12) (1.78,0.13) (1.87,0.15) (1.937,0.19) (2.0,0.26)};
\addplot[r2c, lwt] coordinates {(-0.75,0.398) (-0.737,0.329) (-0.716,0.28) (-0.695,0.27) (-0.68,0.22) (-0.664,0.24) (-0.647,0.20) (-0.632,0.23) (-0.611,0.309) (-0.59,0.368) (-0.569,0.388) (-0.549,0.348) (-0.528,0.398) (-0.517,0.319) (-0.496,0.358) (-0.475,0.338) (-0.455,0.378) (-0.434,0.368) (-0.413,0.378) (-0.392,0.368) (-0.371,0.378) (-0.35,0.358) (-0.329,0.388) (-0.308,0.398) (-0.287,0.408) (-0.266,0.408) (-0.246,0.417) (-0.225,0.427) (-0.204,0.437) (-0.183,0.447) (-0.162,0.447) (-0.141,0.457) (-0.12,0.476) (-0.099,0.486) (-0.078,0.506) (-0.057,0.521) (-0.037,0.54) (-0.02,0.535) (-0.005,0.506) (0.034,0.486) (0.078,0.368) (0.123,0.28) (0.168,0.21) (0.213,0.17) (0.258,0.17) (0.3,0.16) (0.347,0.13) (0.414,0.12) (0.48,0.118) (0.526,0.11) (0.64,0.09) (0.75,0.08) (0.86,0.07) (0.97,0.072) (1.086,0.07) (1.2,0.075) (1.31,0.07) (1.42,0.068) (1.534,0.068) (1.646,0.06) (1.76,0.057) (1.87,0.06) (2.0,0.057)};
\addplot[orc, lwt] coordinates {(-0.75,0.427) (-0.704,0.437) (-0.674,0.427) (-0.653,0.447) (-0.632,0.467) (-0.611,0.545) (-0.59,0.654) (-0.58,0.703) (-0.559,0.674) (-0.538,0.654) (-0.517,0.624) (-0.496,0.585) (-0.475,0.565) (-0.455,0.555) (-0.434,0.57) (-0.413,0.565) (-0.392,0.575) (-0.371,0.565) (-0.35,0.58) (-0.329,0.585) (-0.308,0.595) (-0.287,0.585) (-0.266,0.605) (-0.246,0.624) (-0.225,0.644) (-0.204,0.683) (-0.183,0.703) (-0.162,0.713) (-0.141,0.723) (-0.12,0.743) (-0.099,0.772) (-0.078,0.80) (-0.057,0.821) (-0.037,0.851) (-0.02,0.857) (-0.005,0.821) (0,0.762) (0.034,0.644) (0.078,0.526) (0.123,0.427) (0.168,0.358) (0.213,0.31) (0.258,0.29) (0.3,0.29) (0.347,0.28) (0.414,0.27) (0.526,0.25) (0.64,0.23) (0.705,0.21) (0.75,0.21) (0.86,0.19) (0.97,0.18) (1.086,0.19) (1.2,0.18) (1.31,0.175) (1.42,0.17) (1.49,0.18) (1.534,0.20) (1.6,0.17) (1.646,0.15) (1.76,0.14) (1.87,0.13) (1.94,0.15) (2.0,0.19)};
\addplot[r1c, lwt] coordinates {(-0.75,0.693) (-0.728,0.743) (-0.717,0.753) (-0.706,0.645) (-0.688,0.527) (-0.672,0.488) (-0.656,0.51) (-0.643,0.447) (-0.627,0.567) (-0.611,0.585) (-0.597,0.645) (-0.582,0.605) (-0.571,0.566) (-0.553,0.684) (-0.537,0.802) (-0.522,0.762) (-0.504,0.743) (-0.481,0.704) (-0.459,0.674) (-0.437,0.694) (-0.414,0.634) (-0.392,0.684) (-0.37,0.802) (-0.347,0.841) (-0.325,0.841) (-0.302,0.831) (-0.28,0.841) (-0.258,0.802) (-0.235,0.841) (-0.213,0.861) (-0.19,0.89) (-0.168,0.92) (-0.146,0.96) (-0.123,0.98) (-0.1,1.02) (-0.078,1.07) (-0.056,1.117) (-0.034,1.176) (-0.022,1.2) (-0.007,1.157) (0.011,1.0) (0.034,0.80) (0.056,0.605) (0.078,0.506) (0.1,0.427) (0.123,0.407) (0.146,0.378) (0.18,0.358) (0.213,0.368) (0.235,0.33) (0.258,0.27) (0.3,0.25) (0.347,0.23) (0.39,0.21) (0.437,0.20) (0.48,0.17) (0.526,0.16) (0.57,0.19) (0.615,0.15) (0.66,0.16) (0.705,0.17) (0.75,0.14) (0.84,0.13) (0.93,0.11) (0.974,0.092) (1.02,0.11) (1.086,0.13) (1.15,0.12) (1.2,0.13) (1.265,0.11) (1.33,0.12) (1.42,0.13) (1.49,0.15) (1.557,0.17) (1.6,0.14) (1.646,0.11) (1.69,0.07) (1.736,0.09) (1.78,0.15) (1.825,0.13) (1.87,0.15) (1.937,0.20) (2.0,0.26)};
\addplot[totst] coordinates {(-0.75,0.545) (-0.737,0.555) (-0.716,0.526) (-0.695,0.496) (-0.674,0.476) (-0.653,0.408) (-0.632,0.358) (-0.611,0.348) (-0.59,0.368) (-0.569,0.388) (-0.549,0.408) (-0.528,0.427) (-0.507,0.457) (-0.486,0.476) (-0.465,0.486) (-0.455,0.506) (-0.434,0.476) (-0.413,0.457) (-0.392,0.486) (-0.371,0.476) (-0.35,0.447) (-0.329,0.437) (-0.308,0.457) (-0.287,0.476) (-0.266,0.506) (-0.246,0.526) (-0.225,0.535) (-0.204,0.555) (-0.183,0.575) (-0.162,0.605) (-0.141,0.624) (-0.12,0.654) (-0.099,0.683) (-0.078,0.723) (-0.057,0.762) (-0.037,0.79) (-0.02,0.80) (-0.005,0.772) (0.01,0.74) (0.034,0.664) (0.078,0.526) (0.123,0.427) (0.168,0.368) (0.213,0.33) (0.258,0.30) (0.3,0.29) (0.347,0.295) (0.414,0.28) (0.48,0.275) (0.526,0.26) (0.59,0.27) (0.66,0.26) (0.75,0.24) (0.82,0.25) (0.88,0.23) (0.97,0.23) (1.086,0.22) (1.2,0.23) (1.31,0.215) (1.42,0.21) (1.534,0.22) (1.6,0.25) (1.646,0.21) (1.735,0.18) (1.8,0.17) (1.87,0.19) (1.937,0.22) (2.0,0.25)};
\draw[dline] (axis cs:0,0) -- ([yshift=21.6pt]axis cs:0,1.3);
\node[plab] at (rel axis cs:0.057,0.897) {(f)};
\end{axis}
%% ---------------- (g) ----------------
\begin{axis}[base, bottomax, at={(91pt,-884pt)}, anchor=south west, height=109pt,
  ymin=0, ymax=150, ytick={0,50,100,150}, minor y tick num=0, minor x tick num=1,
  ylabel={\# of storms}, xlabel={Epoch Time, days}]
\addplot[black, line width=1.1pt] table[x=x,y=y] {\storms};
\draw[dline] (axis cs:0,0) -- ([yshift=22.7pt]axis cs:0,150);
\node[plab] at (rel axis cs:0.03,0.87) {(g)};
\end{axis}
%% ---------------- (h) ----------------
\begin{axis}[base, bottomax, rightax, at={(678pt,-884pt)}, anchor=south west, height=109pt,
  ymin=0, ymax=150, ytick={0,50,100,150}, minor y tick num=0, minor x tick num=1,
  ylabel={\# of storms}, xlabel={Epoch Time, days}]
\addplot[black, line width=1.1pt] table[x=x,y=y] {\storms};
\draw[dline] (axis cs:0,0) -- ([yshift=22.7pt]axis cs:0,150);
\node[plab] at (rel axis cs:0.048,0.87) {(h)};
\end{axis}
\pgfresetboundingbox
\path[use as bounding box] (0pt,0pt) rectangle (1120pt,-951pt);
\end{tikzpicture}
\end{document}
